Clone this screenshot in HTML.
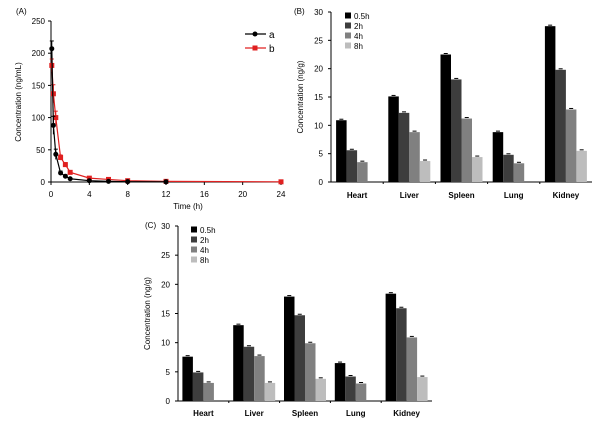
<!DOCTYPE html>
<html><head><meta charset="utf-8"><style>
body{margin:0;background:#fff}
svg{display:block;font-family:"Liberation Sans",Arial,sans-serif}
</style></head><body>
<svg id="fig" width="600" height="427" viewBox="0 0 600 427"></svg>
<script>
const timesA=[0.083,0.25,0.5,1,1.5,2,4,6,8,12];
const valsA=[207,88,43,14,9,5,2,1,0.5,0.3];
const errA=[12,14,8,3,2,1,0.5,0.3,0.2,0.1];
const timesB=[0.083,0.25,0.5,1,1.5,2,4,6,8,12,24];
const valsB=[181,137,100,38,27,15,6,4,2,1,0.3];
const errB=[10,14,10,4,3,2,1,0.5,0.3,0.2,0.1];
const xTicksA=[0,4,8,12,16,20,24];
const yTicksA=[0,50,100,150,200,250];
const organs=["Heart","Liver","Spleen","Lung","Kidney"];
const timeLabels=["0.5h","2h","4h","8h"];
const panelB=[[10.9,5.6,3.5,null],[15.1,12.2,8.8,3.7],[22.5,18.1,11.2,4.4],[8.8,4.8,3.3,null],[27.5,19.8,12.8,5.5]];
const panelC=[[7.6,4.9,3.1,null],[13.0,9.3,7.7,3.1],[17.9,14.7,9.9,3.8],[6.5,4.2,3.0,null],[18.4,15.9,10.9,4.1]];
const yTicksBar=[0,5,10,15,20,25,30];
const barColors=["#000","#3d3d3d","#808080","#bdbdbd"];
const NS="http://www.w3.org/2000/svg";
const svg=document.getElementById('fig');
function mk(t,a,p){const e=document.createElementNS(NS,t);for(const k in a)e.setAttribute(k,a[k]);(p||svg).appendChild(e);return e;}
function txt(s,x,y,a,p){const e=mk('text',Object.assign({x:x,y:y,'font-size':8,fill:'#000'},a),p);e.textContent=s;return e;}

// Panel A
const gA=mk('g',{});


const ax0=51,ax1=281,ay0=182,ay1=21;
const xA=t=>ax0+(ax1-ax0)*t/24, yA=v=>ay0-(ay0-ay1)*v/250;
txt('(A)',16,14,{},gA);
mk('line',{x1:ax0,y1:ay1,x2:ax0,y2:ay0,stroke:'#000'},gA);
mk('line',{x1:ax0,y1:ay0,x2:ax1,y2:ay0,stroke:'#000'},gA);
yTicksA.forEach(v=>{mk('line',{x1:ax0-3,y1:yA(v),x2:ax0,y2:yA(v),stroke:'#000'},gA);txt(v,ax0-6,yA(v)+3,{'text-anchor':'end'},gA);});
xTicksA.forEach(v=>{mk('line',{x1:xA(v),y1:ay0,x2:xA(v),y2:ay0+3,stroke:'#000'},gA);txt(v,xA(v),197,{'text-anchor':'middle'},gA);});
const tl=txt('Time (h)',188,209,{'text-anchor':'middle'},gA);

const yl=txt('Concentration (ng/mL)',0,0,{'text-anchor':'middle',transform:'translate(21,102) rotate(-90)'},gA);

function series(ts,vs,es,col,sq,name){
  const g=mk('g',{},gA);
  
  
  mk('polyline',{points:ts.map((t,i)=>xA(t)+','+yA(vs[i])).join(' '),fill:'none',stroke:col,'stroke-width':1.2},g);
  ts.forEach((t,i)=>{
    mk('line',{x1:xA(t),y1:yA(vs[i]+es[i]),x2:xA(t),y2:yA(vs[i]-es[i]),stroke:col},g);
    mk('line',{x1:xA(t)-2,y1:yA(vs[i]+es[i]),x2:xA(t)+2,y2:yA(vs[i]+es[i]),stroke:col},g);
    if(sq)mk('rect',{x:xA(t)-2.5,y:yA(vs[i])-2.5,width:5,height:5,fill:col},g);
    else mk('circle',{cx:xA(t),cy:yA(vs[i]),r:2.5,fill:col},g);
  });
}
series(timesB,valsB,errB,'#e02020',true,'series-b');
series(timesA,valsA,errA,'#000',false,'series-a');
const lg=mk('g',{},gA);


mk('line',{x1:245,y1:34,x2:266,y2:34,stroke:'#000','stroke-width':1.2},lg);mk('circle',{cx:255,cy:34,r:2.5,fill:'#000'},lg);txt('a',269,38,{'font-size':10},lg);
mk('line',{x1:245,y1:48,x2:266,y2:48,stroke:'#e02020','stroke-width':1.2},lg);mk('rect',{x:252.5,y:45.5,width:5,height:5,fill:'#e02020'},lg);txt('b',269,52,{'font-size':10},lg);

// Bar panels
function barPanel(data,o,name,label){
  const g=mk('g',{});
  
  
  const y=v=>o.y0-(o.y0-o.y1)*v/30;
  txt(label,o.lx,o.ly,{},g);
  mk('line',{x1:o.x0,y1:o.y1,x2:o.x0,y2:o.y0,stroke:'#000'},g);
  mk('line',{x1:o.x0,y1:o.y0,x2:o.x1,y2:o.y0,stroke:'#000'},g);
  yTicksBar.forEach(v=>{mk('line',{x1:o.x0-3,y1:y(v),x2:o.x0,y2:y(v),stroke:'#000'},g);txt(v,o.x0-8,y(v)+3,{'text-anchor':'end'},g);});
  const gw=(o.x1-o.x0)/organs.length, bw=10.5;
  organs.forEach((org,i)=>{
    const cx=o.x0+gw*(i+0.5);
    if(i>0)mk('line',{x1:o.x0+gw*i,y1:o.y0,x2:o.x0+gw*i,y2:o.y0+2,stroke:'#000'},g);
    const t=txt(org,cx,o.ly2,{'text-anchor':'middle','font-weight':'bold'},g);
    
    data[i].forEach((v,j)=>{
      if(v==null)return;
      const bx=cx-2*bw+j*bw;
      const r=mk('rect',{x:bx,y:y(v),width:bw,height:o.y0-y(v),fill:barColors[j]},g);
      
      
      mk('line',{x1:bx+bw/2-2,y1:y(v)-1,x2:bx+bw/2+2,y2:y(v)-1,stroke:'#000'},g);
    });
  });
  const yt=txt('Concentration (ng/g)',0,0,{'text-anchor':'middle',transform:'translate('+o.tx+','+((o.y0+o.y1)/2)+') rotate(-90)'},g);
  
  const leg=mk('g',{},g);
  
  
  timeLabels.forEach((s,j)=>{mk('rect',{x:o.gx,y:o.gy+j*10-3.5,width:6,height:6,fill:barColors[j]},leg);txt(s,o.gx+9,o.gy+j*10+3,{},leg);});
}
barPanel(panelB,{x0:331,x1:592,y0:182,y1:12,lx:294,ly:14,ly2:198,tx:303,gx:345,gy:16},'tissue-chart-b','(B)');
barPanel(panelC,{x0:178,x1:432,y0:401,y1:226,lx:145,ly:228,ly2:416,tx:150,gx:191,gy:230},'tissue-chart-c','(C)');
</script>
</body></html>
